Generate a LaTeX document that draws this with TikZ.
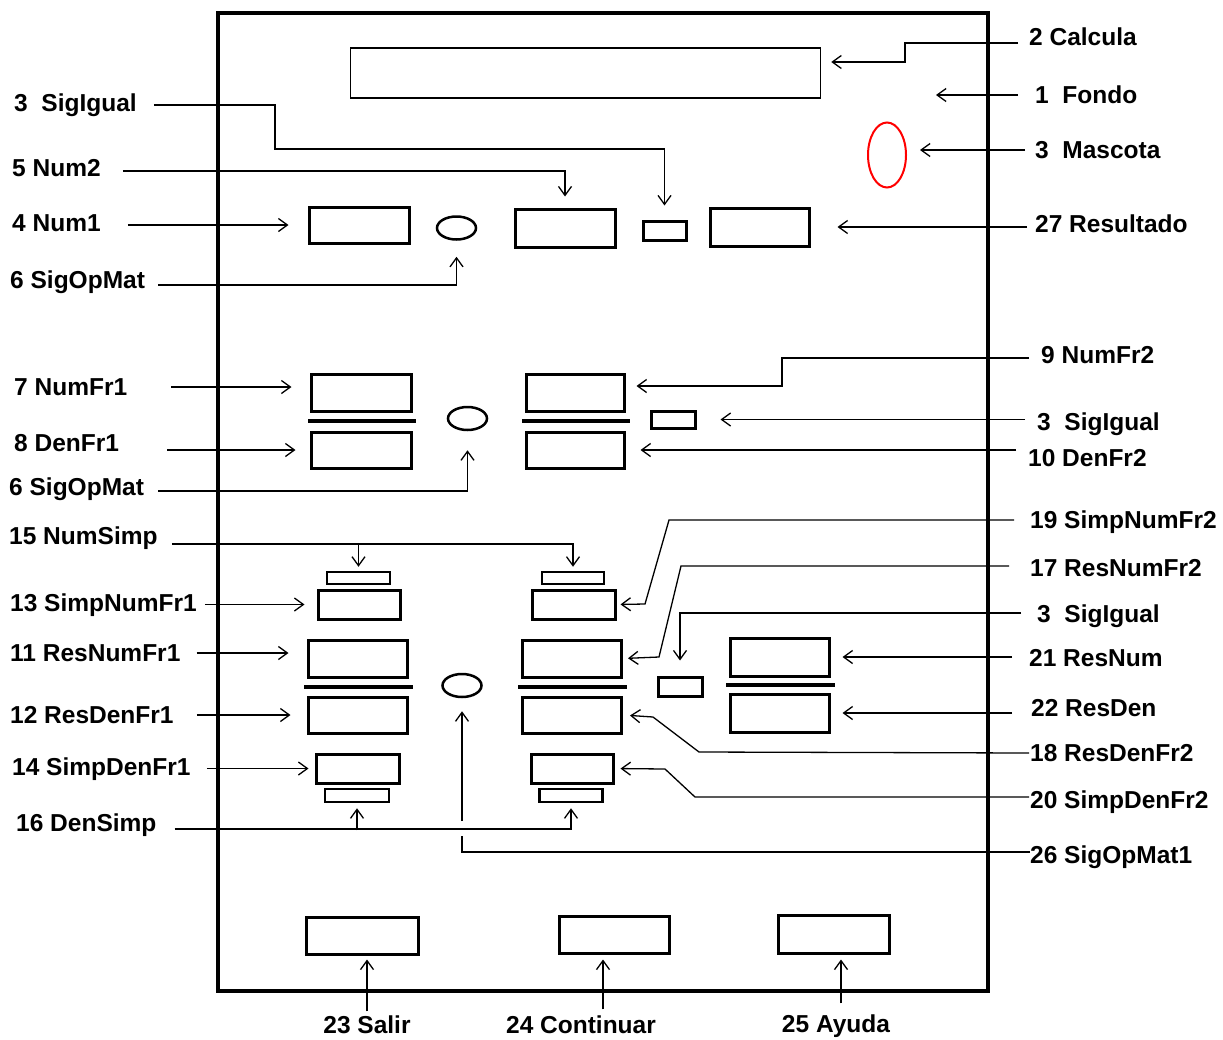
\documentclass[tikz,border=0pt]{standalone}
\usepackage{fontspec}
\setmainfont{Liberation Sans}
\usepackage{tikz}
\usetikzlibrary{shapes.geometric, arrows.meta}

\begin{document}
\begin{tikzpicture}[x=1pt,y=-1pt,
        lbl/.style={font=\fontsize{24.5}{28}\selectfont\bfseries,inner sep=0pt,
                    text height=17pt,text depth=0pt,anchor=west},
        fld/.style={draw,line width=3pt,inner sep=0pt},
        oval/.style={draw,ellipse,line width=2.5pt,inner sep=0pt,
                     minimum width=39pt,minimum height=23pt},
        bar/.style={line width=3.5pt},
        cnx/.style={line width=1.3pt,-{Straight Barb[length=9pt,width=13pt]}}]
        \useasboundingbox (0,0) rectangle (1223,1039);
        \draw[line width=4.5pt] (218,13) rectangle (988,991);
        % screen fields
        \node[draw,line width=1.5pt,minimum width=470pt,minimum height=50pt] (calc) at (585.5,73) {};
        \node[draw=red,ellipse,line width=2pt,minimum width=38pt,minimum height=65pt] (masc) at (887,155) {};
        \node[fld,minimum width=100pt,minimum height=36pt] (num1) at (359,225) {};
        \node[oval] (op1) at (456.5,228) {};
        \node[fld,minimum width=100pt,minimum height=38pt] (num2) at (565,228) {};
        \node[fld,minimum width=43pt,minimum height=19pt] (sig1) at (664.5,230.5) {};
        \node[fld,minimum width=99pt,minimum height=38pt] (res) at (759.5,227) {};
        \node[fld,minimum width=100pt,minimum height=37pt] (nf1) at (361,392.5) {};
        \node[fld,minimum width=100pt,minimum height=36pt] (df1) at (361,450) {};
        \draw[bar] (308,421) -- (416,421);
        \node[oval] (op2) at (467.5,418.5) {};
        \node[fld,minimum width=98pt,minimum height=37pt] (nf2) at (575,392.5) {};
        \node[fld,minimum width=98pt,minimum height=36pt] (df2) at (575,450) {};
        \draw[bar] (522,421) -- (630,421);
        \node[fld,minimum width=44pt,minimum height=17pt] (sig2) at (673,419.5) {};
        \node[fld,line width=2.5pt,minimum width=63pt,minimum height=12pt] (ns1) at (358.5,578) {};
        \node[fld,minimum width=82pt,minimum height=29pt] (snf1) at (359,604.5) {};
        \node[fld,minimum width=99pt,minimum height=37pt] (rnf1) at (357.5,658.5) {};
        \draw[bar] (304,687) -- (413,687);
        \node[fld,minimum width=99pt,minimum height=36pt] (rdf1) at (357.5,715) {};
        \node[fld,minimum width=83pt,minimum height=29pt] (sdf1) at (357.5,768.5) {};
        \node[fld,line width=2.5pt,minimum width=64pt,minimum height=13pt] (ds1) at (357,795.5) {};
        \node[fld,line width=2.5pt,minimum width=62pt,minimum height=12pt] (ns2) at (573,578) {};
        \node[fld,minimum width=83pt,minimum height=29pt] (snf2) at (573.5,604.5) {};
        \node[fld,minimum width=99pt,minimum height=37pt] (rnf2) at (572,658.5) {};
        \draw[bar] (518,687) -- (627,687);
        \node[fld,minimum width=99pt,minimum height=36pt] (rdf2) at (572,715) {};
        \node[fld,minimum width=82pt,minimum height=29pt] (sdf2) at (572,768.5) {};
        \node[fld,line width=2.5pt,minimum width=63pt,minimum height=13pt] (ds2) at (571,795.5) {};
        \node[oval] (op3) at (462,685.5) {};
        \node[fld,minimum width=44pt,minimum height=19pt] (sig3) at (680,686.5) {};
        \node[fld,minimum width=99pt,minimum height=38pt] (rn) at (779.5,657) {};
        \draw[bar] (726,685) -- (835,685);
        \node[fld,minimum width=99pt,minimum height=38pt] (rd) at (779.5,713) {};
        \node[fld,minimum width=112pt,minimum height=37pt] (salir) at (362,935.5) {};
        \node[fld,minimum width=110pt,minimum height=37pt] (cont) at (614,934.5) {};
        \node[fld,minimum width=111pt,minimum height=38pt] (ayuda) at (833.5,934) {};
        \coordinate (fondo) at (936,95);
        % labels
        \node[lbl] (l2) at (1029,37) {2 Calcula};
        \node[lbl] (l1) at (1035,95) {1\ \ Fondo};
        \node[lbl] (l3m) at (1035,150) {3\ \ Mascota};
        \node[lbl] (l27) at (1035,224) {27 Resultado};
        \node[lbl] (l3a) at (14,103) {3\ \ SigIgual};
        \node[lbl] (l5) at (12,168) {5 Num2};
        \node[lbl] (l4) at (12,223) {4 Num1};
        \node[lbl] (l6a) at (10,280) {6 SigOpMat};
        \node[lbl] (l7) at (14,387) {7 NumFr1};
        \node[lbl] (l8) at (14,443) {8 DenFr1};
        \node[lbl] (l6b) at (9,487) {6 SigOpMat};
        \node[lbl] (l15) at (9,536) {15 NumSimp};
        \node[lbl] (l13) at (10,603) {13 SimpNumFr1};
        \node[lbl] (l11) at (10,653) {11 ResNumFr1};
        \node[lbl] (l12) at (10,715) {12 ResDenFr1};
        \node[lbl] (l14) at (12,767) {14 SimpDenFr1};
        \node[lbl] (l16) at (16,823) {16 DenSimp};
        \node[lbl] (l9) at (1041,355) {9 NumFr2};
        \node[lbl] (l3b) at (1037,422) {3\ \ SigIgual};
        \node[lbl] (l10) at (1028,458) {10 DenFr2};
        \node[lbl] (l19) at (1030,520) {19 SimpNumFr2};
        \node[lbl] (l17) at (1030,568) {17 ResNumFr2};
        \node[lbl] (l3c) at (1037,614) {3\ \ SigIgual};
        \node[lbl] (l21) at (1029,658) {21 ResNum};
        \node[lbl] (l22) at (1031,708) {22 ResDen};
        \node[lbl] (l18) at (1030,753) {18 ResDenFr2};
        \node[lbl] (l20) at (1030,800) {20 SimpDenFr2};
        \node[lbl] (l26) at (1030,855) {26 SigOpMat1};
        \node[lbl,anchor=center] (l23) at (367,1025) {23 Salir};
        \node[lbl,anchor=center] (l24) at (581,1025) {24 Continuar};
        \node[lbl,anchor=center] (l25) at (836,1024) {25 Ayuda};
        % connectors
        \draw[cnx,shorten <=11pt,shorten >=10pt] ([yshift=-6pt]l2.west) -| (905,62) -- (calc.east |- 905,62);
        \draw[cnx,shorten <=17pt] (l1.west) -- (fondo);
        \draw[cnx,shorten <=10pt,shorten >=13pt] (l3m.west) -- (l3m.west -| masc.east);
        \draw[cnx,shorten <=8pt,shorten >=27pt] (res.east -| l27.west) -- (res.east);
        \draw[cnx,shorten <=17pt,shorten >=14pt] ([yshift=-2pt]l3a.east) -| (275,149) -| (sig1.north);
        \draw[cnx,shorten <=22pt,shorten >=11pt] ([yshift=-3pt]l5.east) -| (num2.north);
        \draw[cnx,shorten <=27pt,shorten >=19pt] (num1.west -| l4.east) -- (num1.west);
        \draw[cnx,shorten <=13pt,shorten >=16pt] ([yshift=-5pt]l6a.east) -| (op1.south);
        \draw[cnx,shorten <=44pt,shorten >=18pt] (l7.east) -- (l7.east -| nf1.west);
        \draw[cnx,shorten <=48pt,shorten >=14pt] (df1.west -| l8.east) -- (df1.west);
        \draw[cnx,shorten <=14pt,shorten >=19pt] ([yshift=-4pt]l6b.east) -| (op2.south);
        \draw[cnx,shorten <=12pt,shorten >=11pt] ([yshift=-3pt]l9.west) -| (782,386) -- (nf2.east |- 782,386);
        \draw[cnx,shorten <=12pt,shorten >=24pt] (sig2.east -| l3b.west) -- (sig2.east);
        \draw[cnx,shorten <=12pt,shorten >=15pt] (df2.east -| l10.west) -- (df2.east);
        \draw[cnx,shorten <=14pt,shorten >=4pt] ([yshift=-8pt]l15.east) -| (ns2.north);
        \draw[cnx,shorten >=4pt] ([yshift=28pt]ns1.north) -- (ns1.north);
        \draw[cnx,shorten <=8pt,shorten >=12pt] (snf1.west -| l13.east) -- (snf1.west);
        \draw[cnx,shorten <=16pt,shorten >=18pt] (l11.east) -- (l11.east -| rnf1.west);
        \draw[cnx,shorten <=23pt,shorten >=16pt] (rdf1.west -| l12.east) -- (rdf1.west);
        \draw[cnx,shorten <=16pt,shorten >=6pt] (sdf1.west -| l14.east) -- (sdf1.west);
        \draw[cnx,shorten <=18pt,shorten >=5pt] ([yshift=-6pt]l16.east) -| (ds2.south);
        \draw[cnx,shorten >=5pt] ([yshift=-27pt]ds1.south) -- (ds1.south);
        \draw[cnx,shorten <=1pt,shorten >=13pt] ([yshift=3pt]l26.west) -| (op3.south |- 0,836)
            (op3.south |- 0,822) -- (op3.south);
        \draw[cnx,shorten <=16pt,shorten >=4pt] (l19.west) -- (669,520) -- (645,604) -- (snf2.east);
        \draw[cnx,shorten <=21pt,shorten >=5pt] ([yshift=2pt]l17.west) -- (681,566) -- (659,657) -- (rnf2.east);
        \draw[cnx,shorten <=16pt,shorten >=15pt] ([yshift=1pt]l3c.west) -| (sig3.north);
        \draw[cnx,shorten <=17pt,shorten >=12pt] (rn.east -| l21.west) -- (rn.east);
        \draw[cnx,shorten <=19pt,shorten >=12pt] (rd.east -| l22.west) -- (rd.east);
        \draw[cnx,shorten <=1pt,shorten >=7pt] (l18.west) -- (699,752) -- (653,717) -- (rdf2.east);
        \draw[cnx,shorten <=1pt,shorten >=6pt] ([yshift=3pt]l20.west) -- (695,797) -- (665,769) -- (sdf2.east);
        \draw[cnx,shorten <=5pt,shorten >=4pt] (l23.north) -- (l23.north |- salir.south);
        \draw[cnx,shorten <=7pt,shorten >=5pt] ([xshift=22pt]l24.north) -- ([xshift=-11pt]cont.south);
        \draw[cnx,shorten <=12pt,shorten >=5pt] ([xshift=5pt]l25.north) -- ([xshift=7.5pt]ayuda.south);
      \end{tikzpicture}
\end{document}
